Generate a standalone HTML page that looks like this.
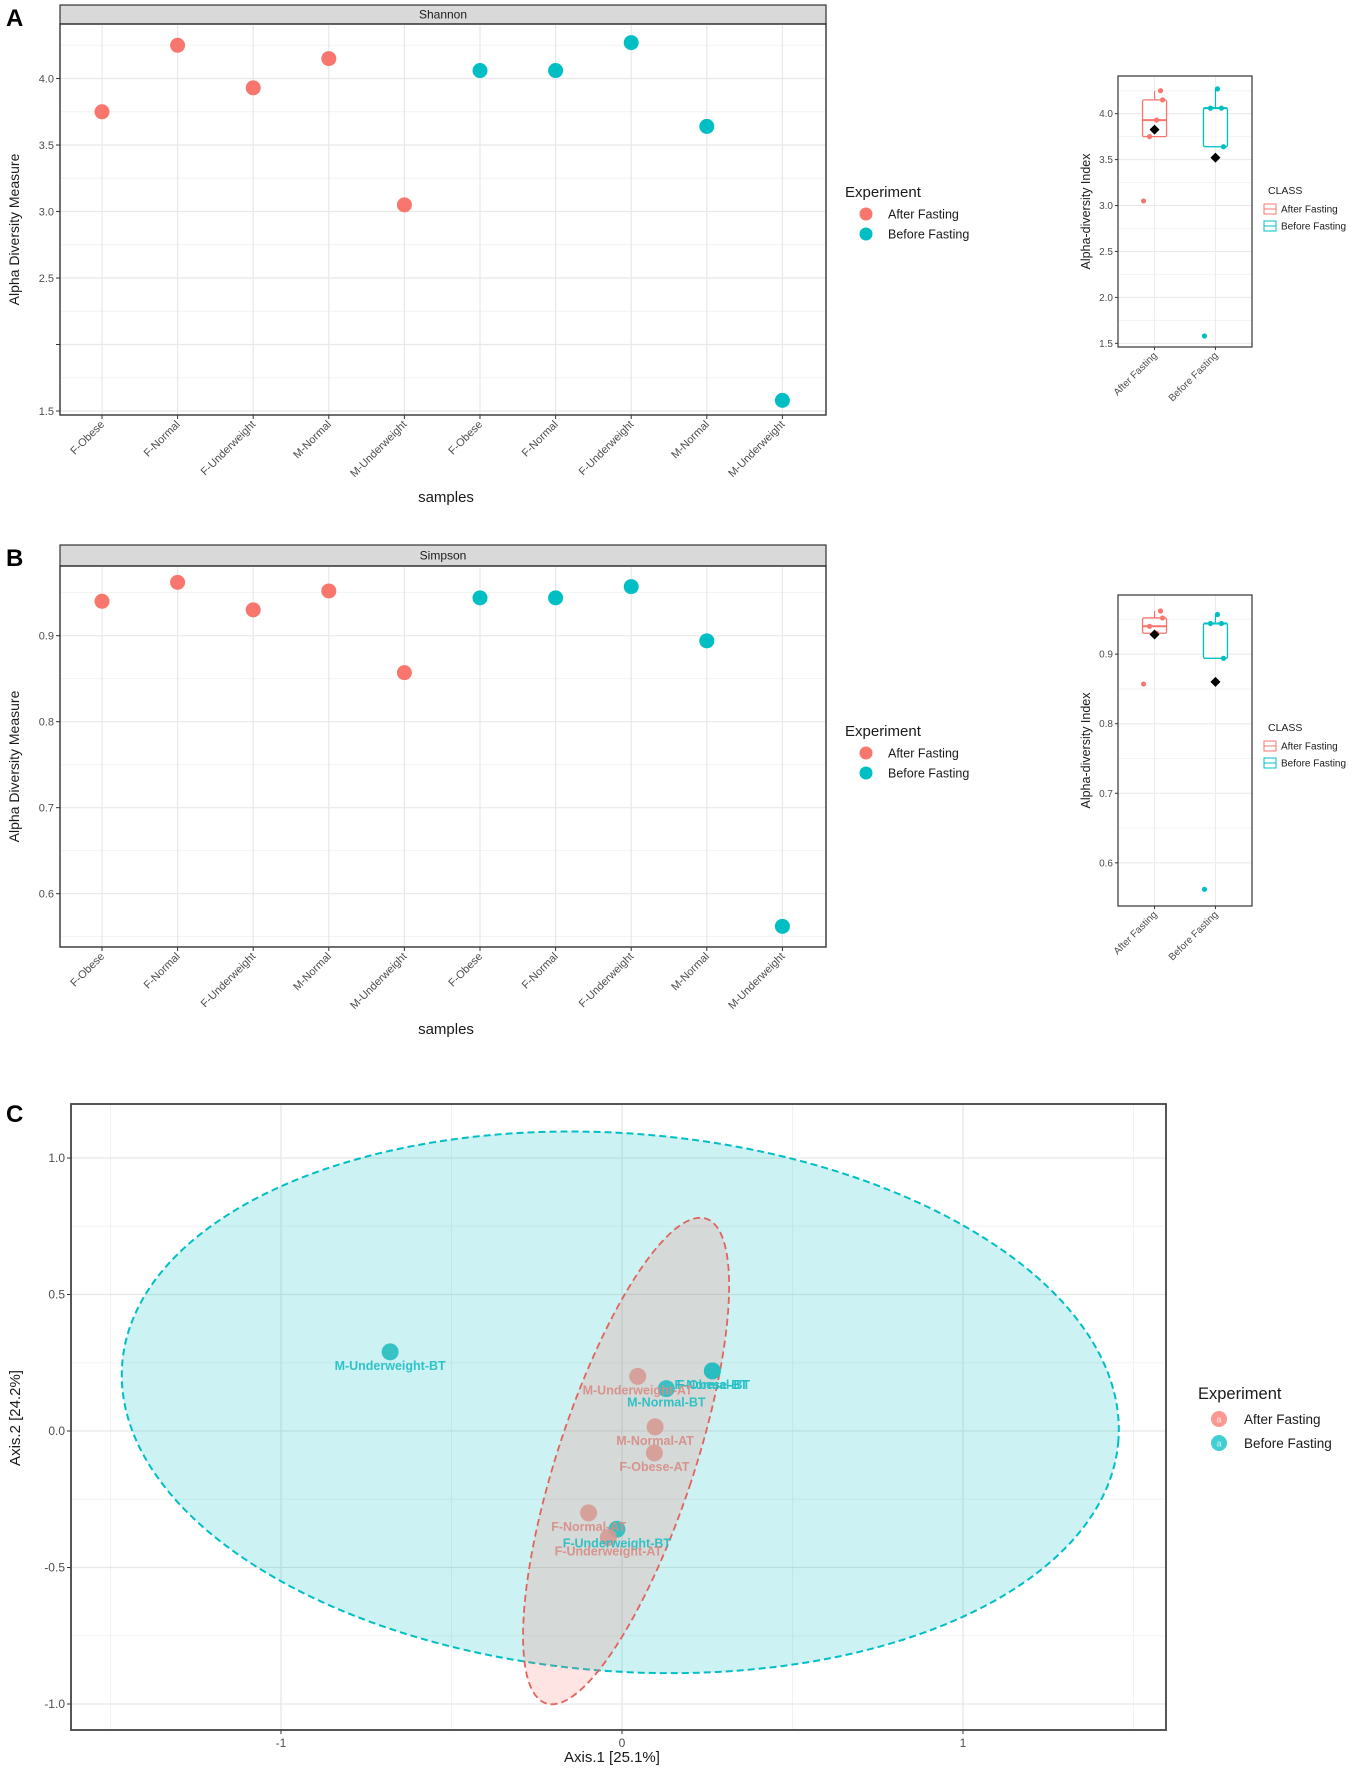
<!DOCTYPE html>
<html><head><meta charset="utf-8"><title>Alpha diversity and PCoA</title>
<style>
html,body{margin:0;padding:0;background:#fff;}
svg{display:block;font-family:"Liberation Sans",Arial,sans-serif;}
</style></head>
<body>
<svg id="fig" width="1369" height="1772" viewBox="0 0 1369 1772" xmlns="http://www.w3.org/2000/svg">
<text x="6" y="26" font-size="24" font-weight="bold">A</text>
<text x="6" y="566" font-size="24" font-weight="bold">B</text>
<text x="6" y="1122" font-size="24" font-weight="bold">C</text>
</svg>
<script>
// ---------- data ----------
const samples = ['F-Obese','F-Normal','F-Underweight','M-Normal','M-Underweight','F-Obese','F-Normal','F-Underweight','M-Normal','M-Underweight'];
const shannonAfter = [3.75, 4.25, 3.93, 4.15, 3.05];
const shannonBefore = [4.06, 4.06, 4.27, 3.64, 1.58];
const simpsonAfter = [0.94, 0.962, 0.93, 0.952, 0.857];
const simpsonBefore = [0.944, 0.944, 0.957, 0.894, 0.562];
const shannonTicks = [1.5, 2.0, 2.5, 3.0, 3.5, 4.0];
const shannonTickLabels = ['1.5', '', '2.5', '3.0', '3.5', '4.0'];
const simpsonTicks = [0.6, 0.7, 0.8, 0.9];
const simpsonTickLabels = ['0.6', '0.7', '0.8', '0.9'];
const shannonInsetTicks = [1.5, 2.0, 2.5, 3.0, 3.5, 4.0];
const shannonInsetLabels = ['1.5', '2.0', '2.5', '3.0', '3.5', '4.0'];
const classes = ['After Fasting', 'Before Fasting'];
const pcoaLabels = ['M-Underweight-BT','F-Obese-BT','F-Normal-BT','M-Normal-BT','F-Underweight-BT','M-Underweight-AT','M-Normal-AT','F-Obese-AT','F-Normal-AT','F-Underweight-AT'];
const pcoaGroup = [1,1,1,1,1,0,0,0,0,0];
const pcoaX = [-0.68, 0.265, 0.265, 0.13, -0.015, 0.046, 0.097, 0.095, -0.098, -0.04];
const pcoaY = [0.29, 0.22, 0.22, 0.155, -0.36, 0.2, 0.015, -0.08, -0.30, -0.39];
const pcoaXTicks = [-1, 0, 1];
const pcoaYTicks = [-1.0, -0.5, 0.0, 0.5, 1.0];
const pcoaYTickLabels = ['-1.0', '-0.5', '0.0', '0.5', '1.0'];
const ellipseBT = {cx: -0.005, cy: 0.105, rx: 1.465, ry: 0.985, angle: 4.4};
const ellipseAT = {cx: 0.012, cy: -0.11, rx: 0.2, ry: 0.935, angle: 18.3};

const RED = '#F8766D', TEAL = '#00BFC4';
const NS = 'http://www.w3.org/2000/svg';
const svg = document.getElementById('fig');
function mk(tag, attrs, parent, text) {
  const e = document.createElementNS(NS, tag);
  for (const k in attrs) e.setAttribute(k, attrs[k]);
  if (text !== undefined) e.textContent = text;
  (parent || svg).appendChild(e);
  return e;
}
function lin(d0, d1, r0, r1) { return v => r0 + (v - d0) * (r1 - r0) / (d1 - d0); }

// ---------- dot plot panels (A, B) ----------
function dotPanel(cfg) {
  const g = mk('g', {});
  
  
  const L = 60, R = 826, T = cfg.top, B = cfg.bottom;
  const y = lin(cfg.dmin, cfg.dmax, B, T);
  const x = i => 102 + i * 75.6;
  const strip = mk('rect', {x: L, y: cfg.stripTop, width: R - L, height: T - cfg.stripTop, fill: '#d9d9d9', stroke: '#333', 'stroke-width': 1.2}, g);
  
  
  const st = mk('text', {x: (L + R) / 2, y: (cfg.stripTop + T) / 2 + 4, 'font-size': 12, fill: '#1a1a1a', 'text-anchor': 'middle'}, g, cfg.title);
  
  
  // minor grid
  for (let k = 0; k < cfg.ticks.length; k++) {
    const mv = cfg.ticks[k] + cfg.step / 2;
    if (mv < cfg.dmax) {
      const ml = mk('line', {x1: L, x2: R, y1: y(mv), y2: y(mv), stroke: '#f2f2f2', 'stroke-width': 1}, g);
      
      
    }
  }
  const mv0 = cfg.ticks[0] - cfg.step / 2;
  if (mv0 > cfg.dmin) {
    const ml0 = mk('line', {x1: L, x2: R, y1: y(mv0), y2: y(mv0), stroke: '#f2f2f2', 'stroke-width': 1}, g);
    
    
  }
  for (let k = 0; k < cfg.ticks.length; k++) {
    const yy = y(cfg.ticks[k]);
    const gl = mk('line', {x1: L, x2: R, y1: yy, y2: yy, stroke: '#e8e8e8', 'stroke-width': 1.2}, g);
    
    
    const tk = mk('line', {x1: L - 4, x2: L, y1: yy, y2: yy, stroke: '#333', 'stroke-width': 1}, g);
    
    
    const tl = mk('text', {x: L - 6, y: yy + 4, 'font-size': 11, fill: '#4d4d4d', 'text-anchor': 'end'}, g, cfg.tickLabels[k]);
    
    
  }
  for (let i = 0; i < samples.length; i++) {
    const gx = mk('line', {x1: x(i), x2: x(i), y1: T, y2: B, stroke: '#e8e8e8', 'stroke-width': 1.2}, g);
    
    
    const tk = mk('line', {x1: x(i), x2: x(i), y1: B, y2: B + 4, stroke: '#333', 'stroke-width': 1}, g);
    
    
    const tx = x(i) + 3, ty = B + 10;
    const tl = mk('text', {x: tx, y: ty, 'font-size': 11, fill: '#4d4d4d', 'text-anchor': 'end', transform: `rotate(-45 ${tx} ${ty})`}, g, samples[i]);
    
    
  }
  const border = mk('rect', {x: L, y: T, width: R - L, height: B - T, fill: 'none', stroke: '#333', 'stroke-width': 1.4}, g);
  
  
  cfg.after.forEach((v, i) => {
    const c = mk('circle', {cx: x(i), cy: y(v), r: 7.5, fill: RED}, g);
    
    
  });
  cfg.before.forEach((v, i) => {
    const c = mk('circle', {cx: x(i + 5), cy: y(v), r: 7.5, fill: TEAL}, g);
    
    
  });
  const yt = mk('text', {x: 0, y: 0, 'font-size': 14, fill: '#1a1a1a', 'text-anchor': 'middle', transform: `translate(19 ${(T + B) / 2 + 10}) rotate(-90)`}, g, 'Alpha Diversity Measure');
  
  
  const xt = mk('text', {x: (L + R) / 2 + 3, y: cfg.xTitleY, 'font-size': 15, fill: '#1a1a1a', 'text-anchor': 'middle'}, g, 'samples');
  
  
  // legend
  const lg = mk('g', {}, g);
  
  
  const lt = mk('text', {x: 845, y: cfg.legY + 5, 'font-size': 15, fill: '#1a1a1a'}, lg, 'Experiment');
  
  
  classes.forEach((c, k) => {
    const yy = cfg.legY + 22 + k * 20;
    const dot = mk('circle', {cx: 866, cy: yy, r: 6.5, fill: k ? TEAL : RED}, lg);
    
    
    const t = mk('text', {x: 888, y: yy + 4.5, 'font-size': 12.5, fill: '#1a1a1a'}, lg, c);
    
    
  });
}

function quant(a, p) {
  const s = a.slice().sort((m, n) => m - n);
  const h = (s.length - 1) * p, lo = Math.floor(h);
  return s[lo] + (h - lo) * ((s[lo + 1] !== undefined ? s[lo + 1] : s[lo]) - s[lo]);
}
const jitter = [-5, 6, 2, 8, -3];

function boxInset(cfg) {
  const g = mk('g', {});
  
  
  const L = 1118, R = 1252, T = cfg.top, B = cfg.bottom;
  const y = lin(cfg.dmin, cfg.dmax, B, T);
  const xc = [L + (R - L) * 0.6 / 2.2, L + (R - L) * 1.6 / 2.2];
  for (let k = 0; k < cfg.ticks.length; k++) {
    const mv = cfg.ticks[k] + cfg.step / 2;
    if (mv < cfg.dmax) {
      const ml = mk('line', {x1: L, x2: R, y1: y(mv), y2: y(mv), stroke: '#f3f3f3', 'stroke-width': 1}, g);
      
      
    }
    const yy = y(cfg.ticks[k]);
    const gl = mk('line', {x1: L, x2: R, y1: yy, y2: yy, stroke: '#e8e8e8', 'stroke-width': 1}, g);
    
    
    const tk = mk('line', {x1: L - 3, x2: L, y1: yy, y2: yy, stroke: '#333', 'stroke-width': 1}, g);
    
    
    const tl = mk('text', {x: L - 5, y: yy + 3.5, 'font-size': 10, fill: '#4d4d4d', 'text-anchor': 'end'}, g, cfg.tickLabels[k]);
    
    
  }
  const series = [cfg.after, cfg.before];
  series.forEach((vals, k) => {
    const cx = xc[k], col = k ? TEAL : RED;
    const gx = mk('line', {x1: cx, x2: cx, y1: T, y2: B, stroke: '#ececec', 'stroke-width': 1}, g);
    
    
    const q1 = quant(vals, 0.25), md = quant(vals, 0.5), q3 = quant(vals, 0.75), iqr = q3 - q1;
    const inl = vals.filter(v => v >= q1 - 1.5 * iqr && v <= q3 + 1.5 * iqr);
    const wlo = Math.min(...inl), whi = Math.max(...inl);
    const mean = vals.reduce((a, b) => a + b, 0) / vals.length;
    const wl = mk('line', {x1: cx, x2: cx, y1: y(whi), y2: y(q3), stroke: col, 'stroke-width': 1.2}, g);
    
    
    const wl2 = mk('line', {x1: cx, x2: cx, y1: y(q1), y2: y(wlo), stroke: col, 'stroke-width': 1.2}, g);
    
    
    const bx = mk('rect', {x: cx - 12, y: y(q3), width: 24, height: Math.max(1, y(q1) - y(q3)), fill: 'rgba(255,255,255,0.6)', stroke: col, 'stroke-width': 1.3, rx: 1.5}, g);
    
    
    const ml = mk('line', {x1: cx - 12, x2: cx + 12, y1: y(md), y2: y(md), stroke: col, 'stroke-width': 2}, g);
    
    
    vals.forEach((v, i) => {
      const isOut = v < q1 - 1.5 * iqr || v > q3 + 1.5 * iqr;
      const p = mk('circle', {cx: cx + jitter[i] - (isOut ? 8 : 0), cy: y(v), r: 2.6, fill: col}, g);
      
      
    });
    const d = mk('path', {d: `M${cx} ${y(mean) - 5} L${cx + 5} ${y(mean)} L${cx} ${y(mean) + 5} L${cx - 5} ${y(mean)} Z`, fill: '#000'}, g);
    
    
    const tk = mk('line', {x1: cx, x2: cx, y1: B, y2: B + 3, stroke: '#333', 'stroke-width': 1}, g);
    
    
    const tx = cx + 3, ty = B + 9;
    const tl = mk('text', {x: tx, y: ty, 'font-size': 10, fill: '#4d4d4d', 'text-anchor': 'end', transform: `rotate(-45 ${tx} ${ty})`}, g, classes[k]);
    
    
  });
  const border = mk('rect', {x: L, y: T, width: R - L, height: B - T, fill: 'none', stroke: '#333', 'stroke-width': 1.2}, g);
  
  
  const yt = mk('text', {x: 0, y: 0, 'font-size': 12.5, fill: '#1a1a1a', 'text-anchor': 'middle', transform: `translate(${L - 28} ${(T + B) / 2}) rotate(-90)`}, g, 'Alpha-diversity Index');
  
  
  const lg = mk('g', {}, g);
  
  
  const lt = mk('text', {x: 1268, y: cfg.legY + 4, 'font-size': 10.5, fill: '#1a1a1a'}, lg, 'CLASS');
  
  
  classes.forEach((c, k) => {
    const yy = cfg.legY + 19 + k * 17;
    const col = k ? TEAL : RED;
    const key = mk('rect', {x: 1264, y: yy - 5, width: 12, height: 10, fill: 'none', stroke: col, 'stroke-width': 1}, lg);
    
    
    const kl = mk('line', {x1: 1264, x2: 1276, y1: yy, y2: yy, stroke: col, 'stroke-width': 1}, lg);
    
    
    const t = mk('text', {x: 1281, y: yy + 3.5, 'font-size': 10, fill: '#1a1a1a'}, lg, c);
    
    
  });
}

dotPanel({name: 'shannon-dot-plot', title: 'Shannon', stripTop: 5, top: 24, bottom: 415, dmin: 1.47, dmax: 4.41, step: 0.5,
  ticks: shannonTicks, tickLabels: shannonTickLabels, after: shannonAfter, before: shannonBefore, xTitleY: 502, legY: 192});
dotPanel({name: 'simpson-dot-plot', title: 'Simpson', stripTop: 545, top: 566, bottom: 947, dmin: 0.538, dmax: 0.981, step: 0.1,
  ticks: simpsonTicks, tickLabels: simpsonTickLabels, after: simpsonAfter, before: simpsonBefore, xTitleY: 1034, legY: 731});
boxInset({name: 'shannon-boxplot', top: 76, bottom: 347, dmin: 1.46, dmax: 4.41, step: 0.5,
  ticks: shannonInsetTicks, tickLabels: shannonInsetLabels, after: shannonAfter, before: shannonBefore, legY: 190});
boxInset({name: 'simpson-boxplot', top: 595, bottom: 906, dmin: 0.538, dmax: 0.985, step: 0.1,
  ticks: simpsonTicks, tickLabels: simpsonTickLabels, after: simpsonAfter, before: simpsonBefore, legY: 727});

// ---------- PCoA panel (C) ----------
(function () {
  const g = mk('g', {});
  
  
  const L = 71, R = 1166, T = 1104, B = 1730;
  const x = lin(0, 1, 622, 963), y = lin(0, 1, 1431, 1158);
  const sx = 341, sy = 273;
  [-1.5, -0.5, 0.5, 1.5].forEach(v => {
    const l = mk('line', {x1: x(v), x2: x(v), y1: T, y2: B, stroke: '#f2f2f2', 'stroke-width': 1}, g);
    
    
  });
  [-0.75, -0.25, 0.25, 0.75].forEach(v => {
    const l = mk('line', {x1: L, x2: R, y1: y(v), y2: y(v), stroke: '#f2f2f2', 'stroke-width': 1}, g);
    
    
  });
  pcoaXTicks.forEach(v => {
    const l = mk('line', {x1: x(v), x2: x(v), y1: T, y2: B, stroke: '#e6e6e6', 'stroke-width': 1.3}, g);
    
    
    const tk = mk('line', {x1: x(v), x2: x(v), y1: B, y2: B + 4, stroke: '#333'}, g);
    
    
    const t = mk('text', {x: x(v), y: B + 17, 'font-size': 12, fill: '#4d4d4d', 'text-anchor': 'middle'}, g, String(v));
    
    
  });
  pcoaYTicks.forEach((v, k) => {
    const l = mk('line', {x1: L, x2: R, y1: y(v), y2: y(v), stroke: '#e6e6e6', 'stroke-width': 1.3}, g);
    
    
    const tk = mk('line', {x1: L - 4, x2: L, y1: y(v), y2: y(v), stroke: '#333'}, g);
    
    
    const t = mk('text', {x: L - 6, y: y(v) + 4, 'font-size': 12, fill: '#4d4d4d', 'text-anchor': 'end'}, g, pcoaYTickLabels[k]);
    
    
  });
  // ellipses
  const eB = mk('ellipse', {cx: x(ellipseBT.cx), cy: y(ellipseBT.cy), rx: ellipseBT.rx * sx, ry: ellipseBT.ry * sy,
    transform: `rotate(${ellipseBT.angle} ${x(ellipseBT.cx)} ${y(ellipseBT.cy)})`, fill: 'rgba(0,191,196,0.2)', stroke: TEAL, 'stroke-width': 2, 'stroke-dasharray': '7 4'}, g);
  
  
  const eA = mk('ellipse', {cx: x(ellipseAT.cx), cy: y(ellipseAT.cy), rx: ellipseAT.rx * sx, ry: ellipseAT.ry * sy,
    transform: `rotate(${ellipseAT.angle} ${x(ellipseAT.cx)} ${y(ellipseAT.cy)})`, fill: 'rgba(248,118,109,0.2)', stroke: '#e0645c', 'stroke-width': 1.8, 'stroke-dasharray': '7 4'}, g);
  
  
  // points
  for (let i = 0; i < pcoaX.length; i++) {
    const col = pcoaGroup[i] ? '#27bcc1' : '#d69a93';
    const c = mk('circle', {cx: x(pcoaX[i]), cy: y(pcoaY[i]), r: 8.5, fill: col, opacity: 0.9}, g);
    
    
  }
  for (let i = 0; i < pcoaX.length; i++) {
    const col = pcoaGroup[i] ? '#1fbfc4' : '#d88c85';
    const t = mk('text', {x: x(pcoaX[i]), y: y(pcoaY[i]) + 18, 'font-size': 12.5, 'font-weight': 'bold', fill: col, 'text-anchor': 'middle', opacity: 0.9}, g, pcoaLabels[i]);
    
    
  }
  const border = mk('rect', {x: L, y: T, width: R - L, height: B - T, fill: 'none', stroke: '#444', 'stroke-width': 1.8}, g);
  
  
  const xt = mk('text', {x: 612, y: 1762, 'font-size': 15, fill: '#1a1a1a', 'text-anchor': 'middle'}, g, 'Axis.1   [25.1%]');
  
  
  const yt = mk('text', {x: 0, y: 0, 'font-size': 15, fill: '#1a1a1a', 'text-anchor': 'middle', transform: 'translate(20 1418) rotate(-90)'}, g, 'Axis.2   [24.2%]');
  
  
  const lg = mk('g', {}, g);
  
  
  const lt = mk('text', {x: 1198, y: 1399, 'font-size': 16.5, fill: '#1a1a1a'}, lg, 'Experiment');
  
  
  classes.forEach((c, k) => {
    const yy = 1419 + k * 24;
    const dot = mk('circle', {cx: 1219, cy: yy, r: 8, fill: k ? TEAL : RED, opacity: 0.75}, lg);
    
    
    const a = mk('text', {x: 1219, y: yy + 3.5, 'font-size': 9, fill: '#fff', 'text-anchor': 'middle', opacity: 0.8}, lg, 'a');
    
    
    const t = mk('text', {x: 1244, y: yy + 5, 'font-size': 13.5, fill: '#1a1a1a'}, lg, c);
    
    
  });
})();
</script>
</body></html>
